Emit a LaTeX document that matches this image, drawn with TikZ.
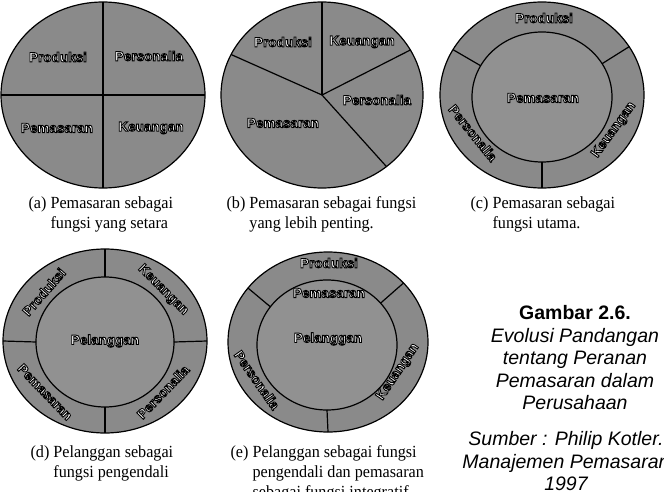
\documentclass[tikz,border=0pt]{standalone}
\usepackage{fontspec}
\setmainfont{Liberation Serif}[FakeStretch=0.95]
\setsansfont{Liberation Sans}
\usetikzlibrary{shapes.geometric}
\definecolor{ringgray}{gray}{0.54}
\definecolor{coregray}{gray}{0.57}
% white letters with a black outline (fill+stroke text mode)
\newcommand\hollow[1]{\special{pdf:literal direct 2 Tr 0.9 w 0 0 0 RG}#1\special{pdf:literal direct 0 Tr}}

\begin{document}
\begin{tikzpicture}[x=1pt, y=-1pt, line width=1.2pt,
    disc/.style = {draw, ellipse, fill=ringgray, inner sep=0pt, outer sep=0pt},
    core/.style = {disc, fill=coregray},
    lbl/.style = {font=\sffamily\bfseries\fontsize{13.5}{14}\selectfont, text=white, inner sep=0pt},
    caption/.style = {font=\fontsize{17}{20}\selectfont, anchor=base west, inner sep=0pt}]
\useasboundingbox (0,0) rectangle (664,492);

% (a) four equal parts
\node[disc, minimum width=204pt, minimum height=186pt] (a) at (103,95) {};
\draw (a.north) -- (a.south);
\draw (a.west) -- (a.east);
\node[lbl] (aprod) at (58,57) {\hollow{Produksi}};
\node[lbl] (apers) at (149,56) {\hollow{Personalia}};
\node[lbl] (apem) at (57,128) {\hollow{Pemasaran}};
\node[lbl] (akeu) at (151,128) {\hollow{Keuangan}};

% (b) marketing gets the big slice
\node[disc, minimum width=202pt, minimum height=186pt] (b) at (322,95) {};
\draw (b.center) -- (b.90);
\draw (b.center) -- (b.156);
\draw (b.center) -- (b.27);
\draw (b.center) -- (b.-48);
\node[lbl] (bprod) at (283,42) {\hollow{Produksi}};
\node[lbl] (bkeu) at (362,42) {\hollow{Keuangan}};
\node[lbl] (bpers) at (377,100) {\hollow{Personalia}};
\node[lbl] (bpem) at (283,123) {\hollow{Pemasaran}};

% (c) marketing in the middle
\node[disc, minimum width=204pt, minimum height=186pt] (c) at (542,95) {};
\node[core, minimum width=140pt, minimum height=130pt] (cin) at (542,97) {};
\draw (cin.153) -- (c.153);
\draw (cin.29) -- (c.29);
\draw (cin.270) -- (c.270);
\node[lbl] (cprod) at (544,18) {\hollow{Produksi}};
\node[lbl] (cpem) at (543,98) {\hollow{Pemasaran}};
\node[lbl, rotate=-51] (cpers) at (473,133) {\hollow{Personalia}};
\node[lbl, rotate=54] (ckeu) at (614,130) {\hollow{Keuangan}};

% (d) customer in the middle
\node[disc, minimum width=204pt, minimum height=184pt] (d) at (105,341) {};
\node[core, minimum width=138pt, minimum height=130pt] (din) at (105,342) {};
\draw (din.90) -- (d.90);
\draw (din.180) -- (d.180);
\draw (din.0) -- (d.0);
\draw (din.270) -- (d.270);
\node[lbl] (dpel) at (105,341) {\hollow{Pelanggan}};
\node[lbl, rotate=49] (dprod) at (44,292) {\hollow{Produksi}};
\node[lbl, rotate=-45] (dkeu) at (163,290) {\hollow{Keuangan}};
\node[lbl, rotate=-46] (dpem) at (45,392) {\hollow{Pemasaran}};
\node[lbl, rotate=46] (dpers) at (163,392) {\hollow{Personalia}};

% (e) customer in the middle, marketing around it
\node[disc, minimum width=200pt, minimum height=180pt] (e) at (328,342) {};
\node[core, minimum width=140pt, minimum height=130pt] (ein) at (327,345) {};
\draw (ein.146) -- (e.146);
\draw (ein.38) -- (e.38);
\draw (ein.270) -- (e.270);
\node[lbl] (eprod) at (329,263) {\hollow{Produksi}};
\node[lbl] (epem) at (329,293) {\hollow{Pemasaran}};
\node[lbl] (epel) at (328,339) {\hollow{Pelanggan}};
\node[lbl, rotate=-55] (epers) at (257,380) {\hollow{Personalia}};
\node[lbl, rotate=56] (ekeu) at (398,372) {\hollow{Keuangan}};

% captions
\node[caption] (capa) at (28,208) {\begin{tabular}[t]{@{}l@{ }l@{}}(a)&Pemasaran sebagai\\&fungsi yang setara\end{tabular}};
\node[caption] (capb) at (226,208) {\begin{tabular}[t]{@{}l@{ }l@{}}(b)&Pemasaran sebagai fungsi\\&yang lebih penting.\end{tabular}};
\node[caption] (capc) at (470,208) {\begin{tabular}[t]{@{}l@{ }l@{}}(c)&Pemasaran sebagai\\&fungsi utama.\end{tabular}};
\node[caption] (capd) at (30,457) {\begin{tabular}[t]{@{}l@{ }l@{}}(d)&Pelanggan sebagai\\&fungsi pengendali\end{tabular}};
\node[caption] (cape) at (230,457) {\begin{tabular}[t]{@{}l@{ }l@{}}(e)&Pelanggan sebagai fungsi\\&pengendali dan pemasaran\\&sebagai fungsi integratif\end{tabular}};

% figure title and source
\node[font=\sffamily\fontsize{19.5}{22.5}\selectfont, align=center, anchor=north, inner sep=0pt] (judul) at (575,305)
  {\textbf{Gambar 2.6.}\\\textit{Evolusi Pandangan}\\\textit{tentang Peranan}\\\textit{Pemasaran dalam}\\\textit{Perusahaan}};
\node[font=\sffamily\itshape\fontsize{19.5}{22.5}\selectfont, align=center, anchor=north, inner sep=0pt] (sumber) at (566,431)
  {Sumber : Philip Kotler.\\Manajemen Pemasaran\\1997};
\end{tikzpicture}
\end{document}
